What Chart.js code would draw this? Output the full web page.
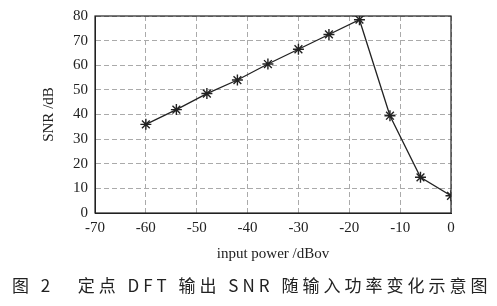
<!DOCTYPE html>
<html>
<head>
<meta charset="utf-8">
<script src="https://cdn.jsdelivr.net/npm/chart.js@4/dist/chart.umd.min.js"></script>
<style>
  html, body { margin: 0; padding: 0; background: #fff; }
  #wrap { width: 497px; height: 306px; position: relative; }
</style>
</head>
<body>
<div id="wrap"><canvas id="snrChart"></canvas></div>
<script>
// Data
const inputPower = [-60, -54, -48, -42, -36, -30, -24, -18, -12, -6, 0];
const snrValues  = [36, 42, 48.5, 54, 60.5, 66.5, 72.5, 78.5, 39.5, 14.5, 7];
const xTicks = [-70, -60, -50, -40, -30, -20, -10, 0];
const yTicks = [0, 10, 20, 30, 40, 50, 60, 70, 80];
const captionText = '图 2   定点 DFT 输出 SNR 随输入功率变化示意图';

const serif = '"Liberation Serif", "DejaVu Serif", serif';

// caption under the chart
const captionPlugin = {
    id: 'caption',
    afterDraw(chart) {
        const ctx = chart.ctx;
        ctx.save();
        ctx.fillStyle = '#222';
        ctx.font = '17px "Noto Sans CJK SC", serif';
        ctx.letterSpacing = '4px';
        ctx.textBaseline = 'middle';
        ctx.textAlign = 'left';
        ctx.fillText(captionText, 12, 286);
        ctx.restore();
    }
};

// plot frame
const framePlugin = {
    id: 'frame',
    afterDatasetsDraw(chart) {
        const a = chart.chartArea;
        const ctx = chart.ctx;
        ctx.save();
        ctx.strokeStyle = '#222';
        ctx.lineWidth = 1.2;
        ctx.strokeRect(a.left, a.top, a.right - a.left, a.bottom - a.top);
        ctx.restore();
    }
};

new Chart(document.getElementById('snrChart').getContext('2d'), {
    type: 'scatter',
    data: {
        datasets: [{
            data: inputPower.map((x, i) => ({ x: x, y: snrValues[i] })),
            showLine: true,
            borderColor: '#222',
            borderWidth: 1.3,
            pointStyle: 'star',
            pointRadius: 5.5,
            pointBorderWidth: 1.4,
            pointBorderColor: '#222',
            pointBackgroundColor: '#222',
            tension: 0
        }]
    },
    options: {
        responsive: true,
        maintainAspectRatio: false,
        animation: false,
        layout: { padding: { left: 40, top: 14, right: 46, bottom: 43 } },
        plugins: {
            legend: { display: false },
            tooltip: { enabled: false }
        },
        scales: {
            x: {
                type: 'linear',
                min: -70, max: 0,
                afterBuildTicks: s => { s.ticks = xTicks.map(v => ({ value: v })); },
                afterFit: s => { s.height = 50; },
                grid: { color: '#aaa', lineWidth: 1, drawTicks: false },
                border: { display: true, color: '#222', dash: [5, 3] },
                ticks: { color: '#222', font: { family: serif, size: 15 }, padding: 6 },
                title: {
                    display: true, text: 'input power /dBov', color: '#222',
                    font: { family: serif, size: 15 }, padding: { top: 0, bottom: 0 }
                }
            },
            y: {
                min: 0, max: 80,
                afterBuildTicks: s => { s.ticks = yTicks.map(v => ({ value: v })); },
                afterFit: s => { s.width = 55; },
                grid: { color: '#aaa', lineWidth: 1, drawTicks: false },
                border: { display: true, color: '#222', dash: [5, 3] },
                ticks: { color: '#222', font: { family: serif, size: 15 }, padding: 7 },
                title: {
                    display: true, text: 'SNR /dB', color: '#222',
                    font: { family: serif, size: 15 }, padding: { top: 0, bottom: 0 }
                }
            }
        }
    },
    plugins: [framePlugin, captionPlugin]
});
</script>
</body>
</html>
